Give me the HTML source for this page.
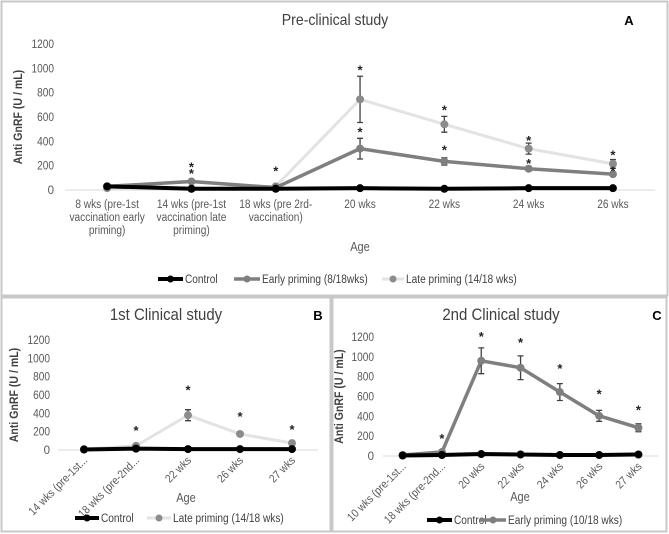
<!DOCTYPE html>
<html><head><meta charset="utf-8"><style>
body{margin:0;background:#fff;}
svg{display:block;font-family:"Liberation Sans Narrow","Liberation Sans",sans-serif;}
</style></head><body>
<svg id="fig" width="669" height="534" viewBox="0 0 669 534">
<rect x="1.5" y="1.5" width="666" height="294" fill="#fff" stroke="#c8c8c8" stroke-width="2"/>
<rect x="1.5" y="297.5" width="329" height="234" fill="#fff" stroke="#c8c8c8" stroke-width="2"/>
<rect x="332.5" y="297.5" width="334" height="234" fill="#fff" stroke="#c8c8c8" stroke-width="2"/>
</svg>
<script>
// Panel A data
const catsA = ["8 wks  (pre-1st|vaccination early|priming)","14 wks (pre-1st|vaccination late|priming)","18 wks  (pre 2rd-|vaccination)","20 wks","22 wks","24  wks","26 wks"];
const ctrlA = [30,10,10,15,10,15,15];
const earlyA = [30,70,20,340,235,175,130];
const earlyErrA = [0,0,0,85,30,20,15];
const lateA = [15,10,30,745,540,340,215];
const lateErrA = [0,0,0,190,65,45,35];
const starsA = [[1,200],[1,150],[2,170],[3,1000],[3,490],[4,670],[4,340],[5,420],[5,230],[6,300],[6,170]];
// Panel B data
const catsB = ["14 wks (pre-1st...","18 wks (pre-2nd...","22 wks","26 wks","27 wks"];
const ctrlB = [5,15,10,10,10];
const lateB = [10,45,380,175,75];
const lateErrB = [0,0,60,20,0];
const starsB = [[1,230],[2,670],[3,380],[4,240]];
// Panel C data
const catsC = ["10 wks (pre-1st...","18 wks (pre-2nd...","20 wks","22 wks","24 wks","26 wks","27 wks"];
const ctrlC = [5,10,20,15,10,10,15];
const earlyC = [10,40,960,890,645,405,285];
const earlyErrC = [0,0,130,120,85,55,40];
const starsC = [[1,190],[2,1220],[3,1160],[4,900],[5,640],[6,480]];
const yTicks = [0,200,400,600,800,1000,1200];

const svg = document.getElementById('fig');
const NS = 'http://www.w3.org/2000/svg';
function mk(tag, attrs, txt){const e=document.createElementNS(NS,tag);for(const k in attrs)e.setAttribute(k,attrs[k]);if(txt!==undefined)e.textContent=txt;svg.appendChild(e);
  if(tag==='text' && txt && txt.length>1){const L=e.getComputedTextLength();if(L>0){e.setAttribute('textLength',(L*0.88).toFixed(1));e.setAttribute('lengthAdjust','spacingAndGlyphs');}}
  return e;}

function panel(cfg){
  const yS = v => cfg.y0 - v/1200*(cfg.y0-cfg.y1);
  const xS = i => cfg.x0 + (i+0.5)*cfg.step;
  let e;
  e=mk('text',{x:cfg.tx,y:cfg.ty,'font-size':cfg.tfs,'text-anchor':'middle',fill:'#404040'},cfg.title);
  
  
  e=mk('text',{x:cfg.lx,y:cfg.ty,'font-size':13,'font-weight':'bold','text-anchor':'middle',fill:'#000'},cfg.letter);
  
  
  yTicks.forEach(t=>{
    e=mk('text',{x:cfg.ylx,y:yS(t)+4,'font-size':11.5,'text-anchor':'end',fill:'#595959'},String(t));
    
    
  });
  e=mk('line',{x1:cfg.x0,x2:cfg.x0+cfg.step*cfg.cats.length,y1:cfg.y0,y2:cfg.y0,stroke:'#d9d9d9','stroke-width':1});
  
  
  const ym=(cfg.y0+cfg.y1)/2;
  e=mk('text',{x:cfg.ytx,y:ym,'font-size':12,'font-weight':'bold','text-anchor':'middle',fill:'#404040',transform:`rotate(-90 ${cfg.ytx} ${ym})`},'Anti GnRF (U / mL)');
  
  
  e=mk('text',{x:cfg.agx,y:cfg.agy,'font-size':12.5,'text-anchor':'middle',fill:'#595959'},'Age');
  
  
  cfg.cats.forEach((c,i)=>{
    if(cfg.rot){
      const x=xS(i)+4, y=cfg.y0+11;
      e=mk('text',{x:x,y:y,'font-size':11.5,'text-anchor':'end',fill:'#595959',transform:`rotate(-45 ${x} ${y})`},c);
      
      
    } else {
      c.split('|').forEach((ln,j)=>{
        e=mk('text',{x:xS(i),y:cfg.y0+18+j*13,'font-size':11.5,'text-anchor':'middle',fill:'#595959'},ln);
        
        
      });
    }
  });
  cfg.series.forEach(s=>{
    const pts=s.vals.map((v,i)=>xS(i)+','+yS(v)).join(' ');
    e=mk('polyline',{points:pts,fill:'none',stroke:s.line,'stroke-width':s.w,'stroke-linejoin':'round'});
    
    
    s.vals.forEach((v,i)=>{
      if(s.err && s.err[i]>0){
        const x=xS(i),a=yS(v+s.err[i]),b=yS(v-s.err[i]);
        e=mk('path',{d:`M${x},${a}V${b}M${x-3},${a}H${x+3}M${x-3},${b}H${x+3}`,stroke:'#404040','stroke-width':1.3,fill:'none'});
        
        
      }
      e=mk('circle',{cx:xS(i),cy:yS(v),r:s.r,fill:s.mk});
      
      
    });
  });
  cfg.stars.forEach(st=>{
    e=mk('text',{x:xS(st[0]),y:yS(st[1])+6,'font-size':13,'font-weight':'bold','text-anchor':'middle',fill:'#222'},'*');
    
    
  });
  cfg.legend.forEach(l=>{
    e=mk('line',{x1:l.x1,x2:l.x2,y1:cfg.legy,y2:cfg.legy,stroke:l.line,'stroke-width':l.w});
    
    
    e=mk('circle',{cx:(l.x1+l.x2)/2,cy:cfg.legy,r:3.5,fill:l.mk});
    
    
    e=mk('text',{x:l.x2+2,y:cfg.legy+4,'font-size':11.5,fill:'#404040'},l.text);
    
    
  });
}
const CTRL={line:'#000',mk:'#000',w:4},EARLY={line:'#7f7f7f',mk:'#7f7f7f',w:3.5},LATE={line:'#e3e3e3',mk:'#8c8c8c',w:3};
panel({id:'panel-a',title:'Pre-clinical study',tx:335,ty:25,tfs:16,lx:629,letter:'A',x0:65,step:84.3,y0:190,y1:44,ylx:54,ytx:22,agx:360,agy:251,
  cats:catsA,rot:false,legy:279,
  series:[{name:'late-priming',vals:lateA,err:lateErrA,line:LATE.line,mk:LATE.mk,w:3,r:4},
          {name:'early-priming',vals:earlyA,err:earlyErrA,line:EARLY.line,mk:EARLY.mk,w:3.5,r:4},
          {name:'control',vals:ctrlA,line:CTRL.line,mk:CTRL.mk,w:4,r:4}],
  stars:starsA,
  legend:[{x1:158,x2:183,text:'Control',...CTRL},{x1:234,x2:260,text:'Early priming (8/18wks)',...EARLY},{x1:382,x2:404,text:'Late priming (14/18 wks)',...LATE}]});
panel({id:'panel-b',title:'1st Clinical study',tx:166,ty:320,tfs:17,lx:318,letter:'B',x0:58,step:52,y0:450,y1:340,ylx:50,ytx:18,agx:186,agy:502,
  cats:catsB,rot:true,legy:518,
  series:[{name:'late-priming',vals:lateB,err:lateErrB,line:LATE.line,mk:LATE.mk,w:3,r:4},
          {name:'control',vals:ctrlB,line:CTRL.line,mk:CTRL.mk,w:4,r:4}],
  stars:starsB,
  legend:[{x1:75,x2:99,text:'Control',...CTRL},{x1:147,x2:171,text:'Late priming (14/18 wks)',...LATE}]});
panel({id:'panel-c',title:'2nd Clinical study',tx:501,ty:320,tfs:17,lx:657,letter:'C',x0:383,step:39.3,y0:456,y1:337,ylx:374,ytx:343,agx:520,agy:501,
  cats:catsC,rot:true,legy:520,
  series:[{name:'early-priming',vals:earlyC,err:earlyErrC,line:EARLY.line,mk:EARLY.mk,w:3.5,r:4},
          {name:'control',vals:ctrlC,line:CTRL.line,mk:CTRL.mk,w:4,r:4}],
  stars:starsC,
  legend:[{x1:427,x2:452,text:'Control',...CTRL},{x1:480,x2:506,text:'Early priming (10/18 wks)',...EARLY}]});
</script>
</body></html>
